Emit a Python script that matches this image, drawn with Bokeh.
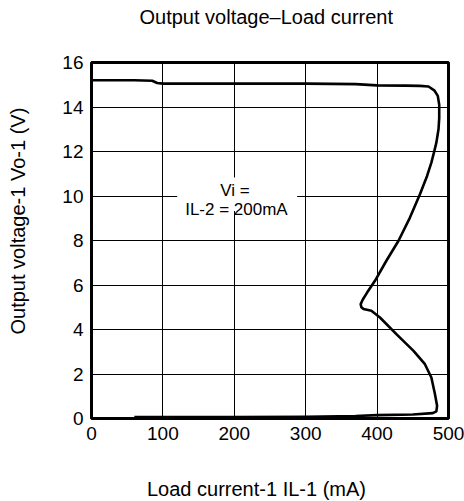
from bokeh.plotting import figure
from bokeh.models import Range1d, Label, BoxAnnotation, FixedTicker, Title
from bokeh.embed import file_html
from bokeh.resources import INLINE

# Data (load current mA, output voltage V)
current_ma = [0, 60, 85, 92, 100, 200, 300, 370, 400, 440, 460, 472, 480, 485, 487,
              487, 486, 483, 480, 476, 470, 460, 446, 430, 413, 397, 386, 380, 377,
              378, 381, 392, 404, 427, 451, 467, 476, 481, 484, 483, 478, 450, 400,
              370, 300, 200, 100, 60]
voltage_v = [15.2, 15.2, 15.18, 15.08, 15.05, 15.05, 15.05, 15.03, 14.97, 14.96, 14.95,
             14.92, 14.75, 14.5, 14.1, 13.5, 13.0, 12.4, 12.0, 11.5, 10.9, 10.08, 9.03,
             7.99, 7.09, 6.19, 5.66, 5.35, 5.14, 5.0, 4.92, 4.84, 4.54, 3.79, 3.04, 2.44,
             1.84, 1.10, 0.57, 0.32, 0.24, 0.18, 0.15, 0.11, 0.08, 0.07, 0.07, 0.07]

x_ticks = [0, 100, 200, 300, 400, 500]
y_ticks = [0, 2, 4, 6, 8, 10, 12, 14, 16]

title_text = "Output voltage\u2013Load current"
x_label = "Load current-1 IL-1 (mA)"
y_label = "Output voltage-1 Vo-1 (V)"
note_line1 = "Vi ="
note_line2 = "IL-2 = 200mA"

FONT = "Liberation Sans"

p = figure(width=464, height=501, output_backend="svg", toolbar_location=None,
           x_range=Range1d(0, 500), y_range=Range1d(0, 16),
           min_border_left=91, min_border_right=16, min_border_top=62, min_border_bottom=83)

# real title (outermost)
p.title.text = title_text
p.title.text_font = FONT
p.title.text_font_size = "20px"
p.title.text_font_style = "normal"
p.title.text_color = "black"
p.title.align = "left"
p.title.offset = 48
p.title.vertical_align = "bottom"
p.title.standoff = 0

# invisible spacer between the frame and the title
p.add_layout(Title(text=" ", text_font_size="2px", standoff=31), "above")

p.xaxis.ticker = FixedTicker(ticks=x_ticks)
p.yaxis.ticker = FixedTicker(ticks=y_ticks)
for ax in (p.xaxis, p.yaxis):
    ax.axis_line_color = None
    ax.major_tick_line_color = None
    ax.minor_tick_line_color = None
    ax.major_tick_out = 0
    ax.major_tick_in = 0
    ax.major_label_text_font = FONT
    ax.major_label_text_font_size = "19px"
    ax.major_label_text_color = "black"
    ax.major_label_standoff = 8
    # blank axis label used only as spacing before the real label
    ax.axis_label = " "
    ax.axis_label_text_font_size = "2px"
p.xaxis.axis_label_standoff = 28
p.yaxis.axis_label_standoff = 26

p.xgrid.ticker = FixedTicker(ticks=x_ticks)
p.ygrid.ticker = FixedTicker(ticks=y_ticks)
p.grid.grid_line_color = "black"
p.grid.grid_line_width = 1
p.grid.grid_line_alpha = 1

p.outline_line_color = "black"
p.outline_line_width = 3

p.background_fill_color = "white"
p.border_fill_color = "white"

p.add_layout(Title(text=x_label, align="left", offset=55.5, standoff=0, vertical_align="bottom",
                   text_font=FONT, text_font_size="20px", text_font_style="normal",
                   text_color="black"), "below")
p.add_layout(Title(text=y_label, align="left", offset=84, standoff=0, vertical_align="bottom",
                   text_font=FONT, text_font_size="20px", text_font_style="normal",
                   text_color="black"), "left")

p.line(current_ma, voltage_v, line_color="black", line_width=2.6, line_join="round")

box = BoxAnnotation(left=120, right=288, bottom=9.33, top=10.83,
                    fill_color="white", fill_alpha=1.0, line_color=None)
p.add_layout(box)
p.add_layout(Label(x=201, y=10.23, text=note_line1, text_align="center",
                   text_baseline="alphabetic", text_font=FONT, text_font_size="17px",
                   text_color="black"))
p.add_layout(Label(x=203, y=9.41, text=note_line2, text_align="center",
                   text_baseline="alphabetic", text_font=FONT, text_font_size="17px",
                   text_color="black"))

open("out.html", "w").write(file_html(p, INLINE))
